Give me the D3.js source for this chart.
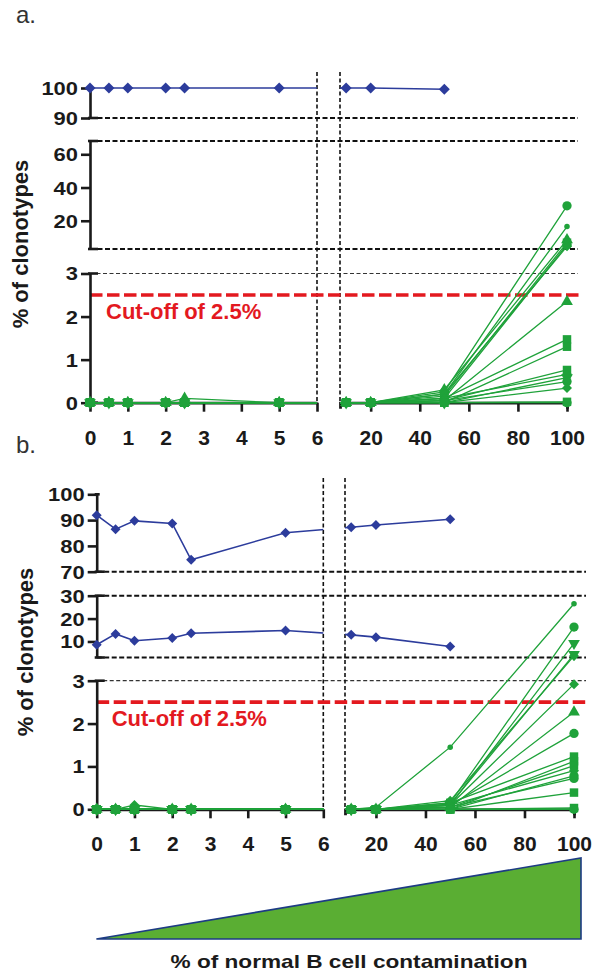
<!DOCTYPE html>
<html>
<head>
<meta charset="utf-8">
<script src="https://cdn.jsdelivr.net/npm/d3@7"></script>
<style>
  body { margin: 0; background: #fff; }
  svg { display: block; font-family: "Liberation Sans", Arial, Helvetica, sans-serif; }
</style>
</head>
<body>
<svg id="chart" width="593" height="974"></svg>
<script>
// ---- data ----
const xValues = [0, 0.5, 1, 2, 2.5, 5, 10, 20, 50, 100];
const xTicksLow = [0, 1, 2, 3, 4, 5, 6];
const xTicksHigh = [20, 40, 60, 80, 100];
const cutoff = 2.5;
const cutoffLabel = "Cut-off of 2.5%";
const yTitle = "% of clonotypes";
const xTitle = "% of normal B cell contamination";

// panel a
const yTicksA = [[0, 1, 2, 3], [20, 40, 60], [90, 100]];
const blueA = [100, 100, 100, 100, 100, 100, 100, 100, 99.6, null];
const greenA = [
  [0, 0, 0, 0, 0, 0, 0, 0, 0.25, 29],
  [0, 0, 0, 0, 0, 0, 0, 0, 0.2, 16.5],
  [0, 0, 0, 0, 0.1, 0, 0, 0, 0.3, 8.5],
  [0, 0, 0, 0, 0, 0, 0, 0, 0.15, 6.8],
  [0, 0, 0, 0, 0, 0, 0, 0, 0.1, 5.6],
  [0, 0, 0, 0, 0, 0, 0, 0, 0.2, 4.6],
  [0, 0, 0, 0, 0, 0, 0, 0, 0.05, 2.35],
  [0, 0, 0, 0, 0, 0, 0, 0, 0.1, 1.47],
  [0, 0, 0, 0, 0, 0, 0, 0, 0, 1.3],
  [0, 0, 0, 0, 0, 0, 0, 0, 0.05, 0.76],
  [0, 0, 0, 0, 0, 0, 0, 0, 0.1, 0.66],
  [0, 0, 0, 0, 0, 0, 0, 0, 0, 0.58],
  [0, 0, 0, 0, 0, 0, 0, 0, 0.05, 0.49],
  [0, 0, 0, 0, 0, 0, 0, 0, 0, 0.34],
  [0, 0, 0, 0, 0, 0, 0, 0, 0, 0.02],
  [0, 0, 0, 0, 0, 0, 0, 0, 0, 0]
];
const greenShapesA = ["circle", "dot", "triangle", "square", "circle", "diamond", "triangle", "square",
  "square", "square", "diamond", "triangleDown", "circle", "diamond", "square", "circle"];

// panel b
const yTicksB = [[0, 1, 2, 3], [10, 20, 30], [70, 80, 90, 100]];
const blueB1 = [91.9, 86.5, 89.7, 88.7, 74.6, 85.1, 87.2, 88.1, 90.3, null];
const blueB2 = [8.6, 13.3, 10.3, 11.5, 13.6, 14.8, 12.9, 11.9, 7.8, null];
const greenB = [
  [0, 0, 0, 0, 0, 0, 0, 0.05, 1.45, 26.5],
  [0, 0, 0, 0, 0, 0, 0, 0, 0.15, 16.3],
  [0, 0, 0, 0, 0, 0, 0, 0, 0.1, 9.2],
  [0, 0, 0, 0, 0, 0, 0, 0, 0.12, 4.4],
  [0, 0, 0, 0, 0, 0, 0, 0, 0.2, 3.7],
  [0, 0, 0.1, 0, 0, 0, 0, 0, 0.1, 2.92],
  [0, 0, 0, 0, 0, 0, 0, 0, 0.05, 2.27],
  [0, 0, 0, 0, 0, 0, 0, 0, 0.1, 1.77],
  [0, 0, 0, 0, 0, 0, 0, 0, 0.15, 1.23],
  [0, 0, 0, 0, 0, 0, 0, 0, 0, 1.12],
  [0, 0, 0, 0, 0, 0, 0, 0, 0.05, 1.02],
  [0, 0, 0, 0, 0, 0, 0, 0, 0.1, 0.9],
  [0, 0, 0, 0, 0, 0, 0, 0, 0, 0.78],
  [0, 0, 0, 0, 0, 0, 0, 0, 0.05, 0.72],
  [0, 0, 0, 0, 0, 0, 0, 0, 0, 0.39],
  [0, 0, 0, 0, 0, 0, 0, 0, 0, 0.03],
  [0, 0, 0, 0, 0, 0, 0, 0, 0, 0]
];
const greenShapesB = ["dot", "circle", "triangleDown", "triangleDown", "diamond", "diamond", "triangle", "circle",
  "square", "square", "square", "diamond", "circle", "circle", "square", "square", "circle"];

// ---- style ----
const BLUE = "#2c3c9c";
const GREEN = "#1fa23a";
const RED = "#e3191f";
const INK = "#1a1a1a";
const fmt = d => String(d);

// ---- layout of each broken-axis panel ----
const panels = [
  {
    id: "a", label: "a.", labelPos: [16, 23],
    axisX: 90, xLow: [90, 317], xHigh: [340, 567], xHighStart: 7.5,
    segs: [ { d: [0, 3], r: [402.7, 273.5] }, { d: [3, 68], r: [249, 141] }, { d: [90, 100], r: [118, 88] } ],
    yTicks: yTicksA, dashTop: 72, rightEdge: 578,
    titlePos: [28, 244], cutPos: [106, 319], diamond: 5.5,
    blue: [blueA], green: greenA, shapes: greenShapesA
  },
  {
    id: "b", label: "b.", labelPos: [16, 453],
    axisX: 96.7, xLow: [96.7, 323.3], xHigh: [345, 574], xHighStart: 7.5,
    segs: [ { d: [0, 3], r: [809.3, 680.7] }, { d: [3, 30], r: [657.5, 595.7] }, { d: [70, 100], r: [571.7, 494.3] } ],
    yTicks: yTicksB, dashTop: 478, rightEdge: 586,
    titlePos: [33, 652], cutPos: [111.7, 726], diamond: 5,
    blue: [blueB1, blueB2], green: greenB, shapes: greenShapesB
  }
];

const svg = d3.select("#chart");

function diamondPath(h) { return `M0,${-h}L${h},0L0,${h}L${-h},0Z`; }
function shapePath(name) {
  switch (name) {
    case "circle": return d3.symbol(d3.symbolCircle, 68)();
    case "dot": return d3.symbol(d3.symbolCircle, 24)();
    case "square": return d3.symbol(d3.symbolSquare, 72)();
    case "triangle": return d3.symbol(d3.symbolTriangle, 60)();
    case "triangleDown": return d3.symbol(d3.symbolTriangle, 60)();
    case "diamond": return diamondPath(5);
  }
}

panels.forEach(p => {
  const g = svg.append("g").attr("class", "panel-" + p.id);

  const xLow = d3.scaleLinear().domain([0, 6]).range(p.xLow);
  const xHigh = d3.scaleLinear().domain([p.xHighStart, 100]).range(p.xHigh);
  const xPos = x => (x <= 6 ? xLow(x) : xHigh(x));

  const segScales = p.segs.map(s => d3.scaleLinear().domain(s.d).range(s.r));
  const yPos = v => {
    for (let i = 0; i < p.segs.length; i++) {
      if (v <= p.segs[i].d[1] + 1e-9) return segScales[i](Math.max(v, p.segs[i].d[0]));
    }
    return segScales[segScales.length - 1](v);
  };
  const yBase = segScales[0](0);

  // clip the lines to the two x-segments
  const clipId = "clip-" + p.id;
  const cp = svg.append("defs").append("clipPath").attr("id", clipId);
  cp.append("rect").attr("x", 0).attr("y", 0).attr("width", p.xLow[1]).attr("height", 974);
  cp.append("rect").attr("x", p.xHigh[0]).attr("y", 0).attr("width", 593 - p.xHigh[0]).attr("height", 974);

  // horizontal dashed lines at the y breaks
  const breakLines = [
    { y: segScales[2](p.segs[2].d[0]), thin: false },
    { y: segScales[1](p.segs[1].d[1]), thin: false },
    { y: segScales[1](p.segs[1].d[0]), thin: false },
    { y: segScales[0](p.segs[0].d[1]), thin: true }
  ];
  g.selectAll("line.hbreak").data(breakLines).join("line")
    .attr("class", "hbreak")
    .attr("x1", p.axisX).attr("x2", p.rightEdge)
    .attr("y1", d => d.y).attr("y2", d => d.y)
    .attr("stroke", d => d.thin ? "#333" : "#111")
    .attr("stroke-width", d => d.thin ? 1.2 : 2)
    .attr("stroke-dasharray", d => d.thin ? "4,2.5" : "5,2.5");

  // vertical dashed lines at the x break
  g.selectAll("line.vbreak").data([p.xLow[1], p.xHigh[0]]).join("line")
    .attr("class", "vbreak")
    .attr("x1", d => d).attr("x2", d => d)
    .attr("y1", p.dashTop).attr("y2", yBase)
    .attr("stroke", "#111").attr("stroke-width", 1.6)
    .attr("stroke-dasharray", "4,2.5");

  // cut-off line
  g.append("line")
    .attr("x1", p.axisX).attr("x2", p.rightEdge + 1)
    .attr("y1", yPos(cutoff)).attr("y2", yPos(cutoff))
    .attr("stroke", RED).attr("stroke-width", 3.6)
    .attr("stroke-dasharray", "12.5,4.5");
  g.append("text")
    .attr("x", p.cutPos[0]).attr("y", p.cutPos[1])
    .attr("fill", RED).attr("font-size", 22).attr("font-weight", "bold")
    .text(cutoffLabel);

  // y axis segments
  p.segs.forEach((s, i) => {
    const ax = d3.axisLeft(segScales[i]).tickValues(p.yTicks[i]).tickFormat(fmt)
      .tickSize(9).tickSizeOuter(0).tickPadding(3);
    const ag = g.append("g").attr("transform", `translate(${p.axisX},0)`).call(ax);
    ag.select(".domain").attr("stroke", INK).attr("stroke-width", 2.6);
    ag.selectAll(".tick line").attr("stroke", INK).attr("stroke-width", 2.6);
    ag.selectAll(".tick text")
      .attr("fill", INK).attr("font-size", 18).attr("font-weight", "bold")
      .attr("font-family", "Liberation Sans, Arial, sans-serif")
      .attr("dy", "0.36em")
      .attr("textLength", d => fmt(d).length * 12.2)
      .attr("lengthAdjust", "spacingAndGlyphs");
    // caps at the ends of each segment
    const isTop = i === p.segs.length - 1;
    [s.r[0], s.r[1]].forEach((yy, k) => {
      const top = isTop && k === 1;
      g.append("line")
        .attr("x1", p.axisX - 2).attr("x2", p.axisX + (top ? 3 : 8))
        .attr("y1", yy).attr("y2", yy)
        .attr("stroke", INK).attr("stroke-width", 2.6);
    });
  });

  // x axis (two segments)
  const xa1 = g.append("g").attr("transform", `translate(0,${yBase})`)
    .call(d3.axisBottom(xLow).tickValues(xTicksLow).tickFormat(fmt).tickSize(9).tickSizeOuter(0).tickPadding(18));
  const xa2 = g.append("g").attr("transform", `translate(0,${yBase})`)
    .call(d3.axisBottom(xHigh).tickValues(xTicksHigh).tickFormat(fmt).tickSize(9).tickSizeOuter(6).tickPadding(18));
  [xa1, xa2].forEach(ag => {
    ag.select(".domain").attr("stroke", INK).attr("stroke-width", 2.8);
    ag.selectAll(".tick line").attr("stroke", INK).attr("stroke-width", 2.6);
    ag.selectAll(".tick text")
      .attr("fill", INK).attr("font-size", 21).attr("font-weight", "bold")
      .attr("font-family", "Liberation Sans, Arial, sans-serif");
  });

  // series lines
  const line = d3.line()
    .defined(d => d.v != null)
    .x(d => xPos(d.x)).y(d => yPos(d.v));
  const toPts = arr => arr.map((v, i) => ({ x: xValues[i], v }));

  const lines = g.append("g").attr("clip-path", `url(#${clipId})`);
  p.green.forEach(s => {
    lines.append("path").datum(toPts(s)).attr("d", line)
      .attr("fill", "none").attr("stroke", GREEN).attr("stroke-width", 1.3);
  });
  p.blue.forEach(s => {
    lines.append("path").datum(toPts(s)).attr("d", line)
      .attr("fill", "none").attr("stroke", BLUE).attr("stroke-width", 1.6);
  });

  // markers
  p.green.forEach((s, si) => {
    const shp = p.shapes[si];
    g.append("g").selectAll("path").data(toPts(s).filter(d => d.v != null)).join("path")
      .attr("d", shapePath(shp))
      .attr("transform", d => `translate(${xPos(d.x)},${yPos(d.v)})` + (shp === "triangleDown" ? " rotate(180)" : ""))
      .attr("fill", GREEN);
  });
  p.blue.forEach(s => {
    g.append("g").selectAll("path").data(toPts(s).filter(d => d.v != null)).join("path")
      .attr("d", diamondPath(p.diamond))
      .attr("transform", d => `translate(${xPos(d.x)},${yPos(d.v)})`)
      .attr("fill", BLUE);
  });

  // y title and panel label
  g.append("text")
    .attr("transform", `translate(${p.titlePos[0]},${p.titlePos[1]}) rotate(-90)`)
    .attr("text-anchor", "middle").attr("font-size", 22).attr("font-weight", "bold")
    .attr("fill", INK).text(yTitle);
  g.append("text")
    .attr("x", p.labelPos[0]).attr("y", p.labelPos[1])
    .attr("font-size", 24).attr("fill", "#333").text(p.label);
});

// contamination wedge and x title
const wedge = [[96.4, 939], [581, 939], [581, 858]];
svg.append("path")
  .attr("d", d3.line()(wedge) + "Z")
  .attr("fill", "#5aae33").attr("stroke", "#1d3b84").attr("stroke-width", 1.6)
  .attr("stroke-linejoin", "miter");
svg.append("text")
  .attr("x", 349).attr("y", 968).attr("text-anchor", "middle")
  .attr("font-size", 19).attr("font-weight", "bold").attr("fill", INK)
  .attr("textLength", 357).attr("lengthAdjust", "spacingAndGlyphs")
  .text(xTitle);
</script>
</body>
</html>
